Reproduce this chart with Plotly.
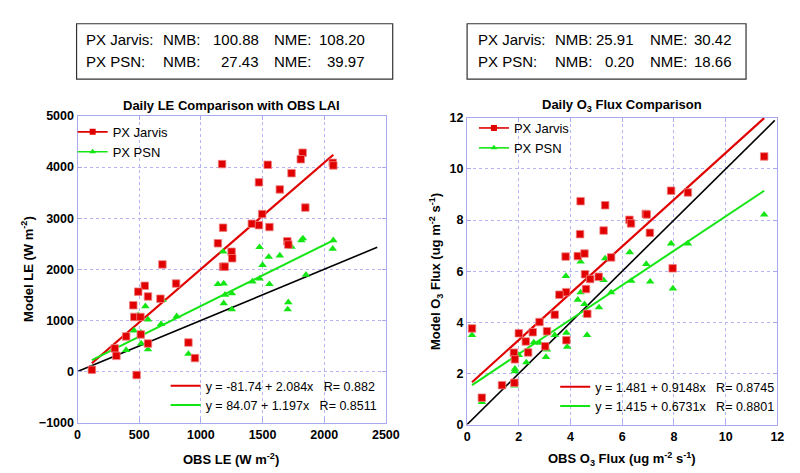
import plotly.graph_objects as go

# ---------------- data ----------------
le_jarvis_x = [1172, 1542, 1825, 1810, 2069, 2074, 1735, 1471, 1640, 1847, 1497, 1413, 1471, 1556,
               1180, 1138, 1249, 1254, 1180, 1193, 688, 1701, 1709, 545, 492, 571, 452, 799, 672,
               460, 510, 513, 394, 571, 302, 315, 116, 479, 899, 952]
le_jarvis_y = [4057, 4044, 4280, 4152, 4082, 4032, 3880, 3700, 3562, 3206, 3080, 2890, 2863, 2825,
               2813, 2508, 2343, 2215, 2051, 2051, 2095, 2547, 2482, 1676, 1562, 1467, 1295, 1720, 1423,
               1067, 1067, 724, 686, 547, 451, 305, 32, -70, 566, 261]
le_psn_x = [1180, 1476, 1500, 1550, 1640, 1735, 1815, 1828, 2074, 2069, 1852, 1138, 1185, 1418, 1476,
            1556, 1196, 1251, 1185, 1251, 1709, 1704, 690, 550, 804, 677, 571, 492, 458, 513, 516,
            571, 394, 315, 302, 116, 479, 899, 952]
le_psn_y = [2343, 2432, 2082, 2241, 2267, 2438, 2566, 2603, 2566, 2400, 1892, 1708, 1720, 1759, 1816,
            1708, 1500, 1530, 1333, 1213, 1352, 1213, 1403, 1276, 1080, 927, 1016, 1099, 800, 762, 547,
            432, 419, 280, 463, 51, -70, 343, 261]

o3_jarvis_x = [11.49, 7.89, 8.54, 4.39, 5.34, 6.91, 6.95, 6.28, 6.34, 4.37, 5.28, 7.07, 3.81, 4.28,
               4.54, 5.57, 7.95, 4.56, 5.09, 4.76, 4.60, 3.83, 3.57, 3.39, 4.65, 2.80, 2.00, 2.54,
               3.09, 2.27, 3.84, 3.02, 2.36, 1.81, 1.85, 1.83, 1.35, 0.57, 0.19]
o3_jarvis_y = [10.49, 9.15, 9.08, 8.74, 8.58, 8.24, 8.22, 8.01, 7.87, 7.45, 7.59, 7.50, 6.57, 6.59,
               6.69, 6.54, 6.11, 5.88, 5.78, 5.69, 5.30, 5.18, 5.08, 4.30, 4.33, 4.01, 3.57, 3.61,
               3.65, 3.25, 3.30, 3.06, 2.82, 2.81, 2.55, 1.63, 1.54, 1.05, 3.76]
o3_psn_x = [11.49, 4.39, 5.34, 6.29, 6.93, 7.89, 8.54, 3.82, 5.28, 6.35, 7.08, 7.96, 5.57, 3.55, 4.39,
            4.28, 4.54, 4.60, 5.10, 4.64, 3.84, 3.87, 3.39, 2.80, 2.58, 3.09, 3.05, 2.36, 2.00, 2.29,
            1.85, 1.85, 1.83, 1.37, 0.57, 0.19]
o3_psn_y = [8.21, 6.37, 6.50, 6.74, 6.28, 7.08, 7.08, 5.81, 5.65, 5.62, 5.59, 5.32, 5.17, 5.06, 5.17,
            4.88, 4.71, 4.30, 4.58, 3.50, 3.59, 3.04, 3.50, 3.19, 3.21, 2.93, 2.64, 2.81, 2.72, 2.43,
            2.18, 2.08, 1.52, 1.52, 0.88, 3.50]

# regression coefficients (intercept, slope) as printed on the chart
le_jarvis_fit = (-81.74, 2.084)
le_psn_fit = (84.07, 1.197)
o3_jarvis_fit = (1.481, 0.9148)
o3_psn_fit = (1.415, 0.6731)
le_fit_labels = ["y = -81.74 + 2.084x&nbsp;&nbsp;&nbsp;R= 0.882", "y = 84.07 + 1.197x&nbsp;&nbsp;&nbsp;R= 0.8511"]
o3_fit_labels = ["y = 1.481 + 0.9148x&nbsp;&nbsp;&nbsp;R= 0.8745", "y = 1.415 + 0.6731x&nbsp;&nbsp;&nbsp;R= 0.8801"]
le_one_to_one = [0, 2430]
o3_one_to_one = [0, 11.9]

stats_left = [["PX Jarvis:", "NMB:", "100.88", "NME:", "108.20"],
              ["PX PSN:", "NMB:", "27.43", "NME:", "39.97"]]
stats_right = [["PX Jarvis:", "NMB:", "25.91", "NME:", "30.42"],
               ["PX PSN:", "NMB:", "0.20", "NME:", "18.66"]]

RED = "#e00000"
GREEN = "#14e614"
FRAME = "#a8a8f0"
GRID = "#b4b4f4"
FONT = "Liberation Sans, Arial"

W, H = 800, 473
def px(x): return x / W
def py(y): return 1 - y / H

fig = go.Figure()

def fitline(xs, coef):
    x0, x1 = min(xs), max(xs)
    return [x0, x1], [coef[0] + coef[1] * x0, coef[0] + coef[1] * x1]

def add_panel(xa, ya, jx, jy, sx, sy, jfit, sfit, one, labels, leg_data, leg_fit):
    fig.add_trace(go.Scatter(x=one, y=one, mode="lines", line=dict(color="black", width=1.6),
                             xaxis=xa, yaxis=ya, showlegend=False, hoverinfo="skip"))
    lx, ly = fitline(jx, jfit)
    fig.add_trace(go.Scatter(x=lx, y=ly, mode="lines", line=dict(color=RED, width=2.2),
                             xaxis=xa, yaxis=ya, name=labels[0], legend=leg_fit))
    lx, ly = fitline(sx, sfit)
    fig.add_trace(go.Scatter(x=lx, y=ly, mode="lines", line=dict(color=GREEN, width=2.0),
                             xaxis=xa, yaxis=ya, name=labels[1], legend=leg_fit))
    fig.add_trace(go.Scatter(x=sx, y=sy, mode="markers",
                             marker=dict(symbol="triangle-up", size=7.5, color=GREEN),
                             xaxis=xa, yaxis=ya, showlegend=False))
    fig.add_trace(go.Scatter(x=jx, y=jy, mode="markers",
                             marker=dict(symbol="square", size=7.5, color=RED,
                                         line=dict(color="#f08080", width=0.8)),
                             xaxis=xa, yaxis=ya, showlegend=False))
    fig.add_trace(go.Scatter(x=[None], y=[None], mode="lines+markers", name="PX Jarvis",
                             line=dict(color=RED, width=1.6),
                             marker=dict(symbol="square", size=6, color=RED),
                             xaxis=xa, yaxis=ya, legend=leg_data))
    fig.add_trace(go.Scatter(x=[None], y=[None], mode="lines+markers", name="PX PSN",
                             line=dict(color=GREEN, width=1.6),
                             marker=dict(symbol="triangle-up", size=6, color=GREEN),
                             xaxis=xa, yaxis=ya, legend=leg_data))

add_panel("x", "y", le_jarvis_x, le_jarvis_y, le_psn_x, le_psn_y, le_jarvis_fit, le_psn_fit,
          le_one_to_one, le_fit_labels, "legend", "legend2")
add_panel("x2", "y2", o3_jarvis_x, o3_jarvis_y, o3_psn_x, o3_psn_y, o3_jarvis_fit, o3_psn_fit,
          o3_one_to_one, o3_fit_labels, "legend3", "legend4")

tickfont = dict(family=FONT, size=12.5, color="black", weight="bold")
axis_common = dict(showline=True, linecolor=FRAME, linewidth=1.2, mirror="ticks",
                   ticks="inside", ticklen=4, tickcolor=FRAME, showgrid=True,
                   gridcolor=GRID, griddash="dot", gridwidth=1, zeroline=False,
                   tickfont=tickfont)

fig.update_layout(
    width=W, height=H, margin=dict(l=0, r=0, t=0, b=0),
    paper_bgcolor="white", plot_bgcolor="white",
    font=dict(family=FONT, color="black"),
    xaxis=dict(domain=[px(68), px(383)], range=[0, 2500], dtick=500, anchor="y", **axis_common),
    yaxis=dict(domain=[py(420), py(104)], range=[-1000, 5000], dtick=1000, anchor="x", **axis_common),
    xaxis2=dict(domain=[px(466), px(783)], range=[0, 12], dtick=2, anchor="y2", **axis_common),
    yaxis2=dict(domain=[py(422), py(106)], range=[0, 12], dtick=2, anchor="x2", **axis_common),
)

def leg(x, y, size):
    return dict(x=px(x), y=py(y), bgcolor="rgba(0,0,0,0)", borderwidth=0,
                xanchor="left", yanchor="top", tracegroupgap=0, itemwidth=30,
                font=dict(family=FONT, size=size, color="black"))

fig.update_layout(
    legend=leg(63, 105, 13),
    legend2=leg(158, 367, 12.5),
    legend3=leg(473, 101, 13),
    legend4=leg(556, 368, 12.5),
)

ann = []
def text(x, y, s, size=13, bold=False, anchor="center", angle=0):
    ann.append(dict(x=px(x), y=py(y), xref="paper", yref="paper", text=s, showarrow=False,
                    xanchor=anchor, yanchor="middle", textangle=angle,
                    font=dict(size=size, family=FONT, color="black",
                              weight="bold" if bold else "normal")))

text(225, 93, "Daily LE Comparison with OBS LAI", size=13, bold=True)
text(624, 93, "Daily O<sub>3</sub> Flux Comparison", size=13, bold=True)
text(225, 458, "OBS LE (W m<sup>-2</sup>)", size=13, bold=True)
text(624, 458, "OBS O<sub>3</sub> Flux (ug m<sup>-2</sup> s<sup>-1</sup>)", size=13, bold=True)
text(17, 262, "Model LE (W m<sup>-2</sup>)", size=13, bold=True, angle=-90)
text(434, 264, "Model O<sub>3</sub> Flux (ug m<sup>-2</sup> s<sup>-1</sup>)", size=13, bold=True, angle=-90)

def stats_box(rows, cols, box):
    x0, x1, y0, y1 = box
    fig.add_shape(type="rect", xref="paper", yref="paper", x0=px(x0), x1=px(x1),
                  y0=py(y1), y1=py(y0), line=dict(color="#333333", width=1.2))
    for r, yy in zip(rows, [25, 48]):
        text(cols[0], yy, r[0], size=15, anchor="left")
        text(cols[1], yy, r[1], size=15, anchor="left")
        text(cols[2], yy, r[2], size=15, anchor="right")
        text(cols[3], yy, r[3], size=15, anchor="left")
        text(cols[4], yy, r[4], size=15, anchor="right")

stats_box(stats_left, [75, 153, 255, 267, 364], (67, 390, 9, 66))
stats_box(stats_right, [475, 554, 639, 651, 739], (466, 751, 9, 66))

fig.update_layout(annotations=ann)
fig.write_html("out.html")
